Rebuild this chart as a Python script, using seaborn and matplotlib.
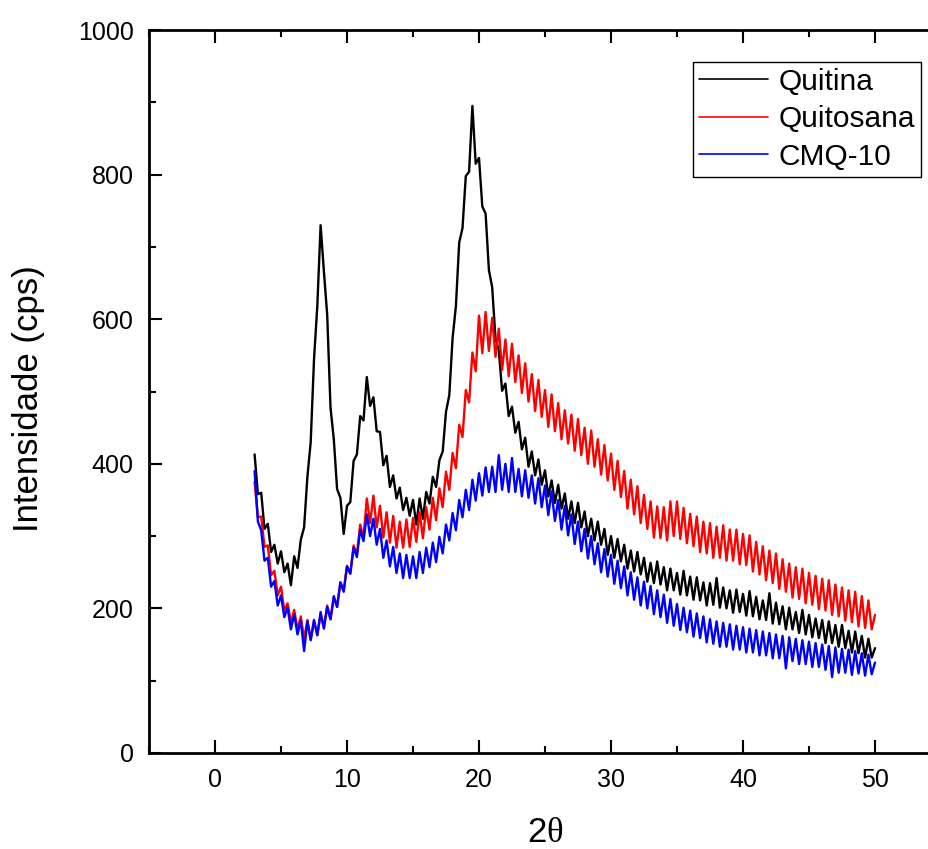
"""
Difratogramas de raios X: Quitina, Quitosana e CMQ-10
============================================================
Gera out.png (929x849 px) com as três curvas de intensidade vs 2θ.
"""

import numpy as np
import pandas as pd
import matplotlib
matplotlib.use('Agg')
import matplotlib.pyplot as plt
from matplotlib.ticker import MultipleLocator
import seaborn as sns

# ================================================================
# Dados (lidos do difratograma, passo de 0.25°)
# ================================================================

TWO_THETA = np.arange(3.0, 50.0 + 0.125, 0.25)

QUITINA = [
    413, 358, 360, 310,   317, 278, 288, 262,   279, 250, 262, 232,
    272, 256, 295, 312,   382, 430, 544, 618,   730, 666, 606, 478,
    434, 365, 353, 303,   342, 347, 404, 413,   466, 460, 520, 480,
    492, 445, 444, 398,   411, 368, 384, 352,   367, 336, 353, 328,
    350, 316, 352, 324,   361, 345, 382, 368,   405, 417, 472, 495,
    574, 618, 706, 726,   798, 804, 895, 815,   823, 756, 746, 668,
    644, 573, 557, 501,   511, 466, 479, 443,   458, 420, 436, 396,
    417, 384, 406, 371,   391, 355, 377, 346,   371, 338, 359, 324,
    348, 318, 346, 312,   334, 300, 324, 294,   320, 288, 310, 274,
    300, 270, 296, 265,   288, 255, 280, 251,   278, 247, 270, 237,
    263, 235, 265, 233,   257, 225, 255, 225,   249, 219, 252, 218,
    244, 212, 243, 211,   236, 204, 235, 205,   242, 201, 229, 200,
    225, 194, 226, 195,   220, 190, 224, 189,   216, 185, 211, 184,
    221, 179, 208, 178,   203, 171, 201, 171,   195, 166, 198, 164,
    191, 160, 186, 159,   184, 152, 182, 152,   177, 147, 177, 145,
    169, 139, 168, 138,   162, 132, 158, 132,
    145,
]

QUITOSANA = [
    375, 326, 327, 285,   287, 246, 252, 218,   230, 197, 207, 180,
    198, 171, 189, 158,   184, 157, 182, 163,   191, 174, 204, 185,
    215, 202, 236, 225,   259, 248, 287, 275,   316, 298, 352, 318,
    356, 312, 342, 298,   333, 291, 328, 284,   320, 284, 323, 285,
    325, 292, 333, 297,   340, 309, 353, 322,   366, 340, 389, 364,
    415, 394, 454, 437,   502, 485, 554, 528,   605, 553, 610, 556,
    602, 548, 587, 530,   572, 521, 566, 513,   550, 498, 539, 486,
    524, 473, 516, 465,   502, 451, 496, 445,   484, 434, 474, 428,
    468, 418, 462, 412,   450, 400, 446, 396,   434, 385, 426, 377,
    414, 364, 404, 354,   390, 338, 378, 330,   369, 318, 357, 310,
    348, 298, 341, 297,   340, 294, 348, 300,   348, 296, 339, 290,
    331, 286, 327, 278,   320, 276, 318, 270,   313, 270, 315, 266,
    309, 266, 309, 261,   303, 260, 301, 251,   292, 247, 286, 239,
    280, 235, 276, 227,   268, 223, 262, 215,   257, 213, 255, 207,
    249, 205, 245, 199,   241, 197, 239, 191,   233, 189, 229, 183,
    225, 181, 223, 175,   217, 173, 211, 171,
    191,
]

CMQ_10 = [
    390, 320, 308, 266,   270, 230, 238, 204,   218, 188, 201, 171,
    192, 164, 183, 141,   182, 156, 184, 163,   195, 172, 202, 185,
    217, 202, 236, 223,   258, 248, 284, 271,   309, 293, 330, 300,
    324, 288, 310, 270,   294, 258, 285, 249,   276, 242, 274, 242,
    272, 242, 278, 249,   284, 257, 291, 264,   299, 276, 316, 294,
    332, 308, 350, 326,   364, 336, 378, 349,   387, 356, 395, 361,
    396, 361, 412, 364,   400, 361, 408, 361,   393, 355, 391, 353,
    384, 345, 380, 340,   370, 329, 362, 321,   350, 309, 342, 301,
    330, 289, 320, 279,   310, 269, 300, 261,   290, 250, 282, 244,
    274, 234, 266, 228,   258, 218, 250, 212,   243, 204, 237, 200,
    231, 192, 225, 188,   219, 180, 213, 176,   206, 170, 201, 167,
    197, 161, 193, 159,   189, 153, 185, 151,   182, 147, 180, 147,
    178, 143, 176, 143,   174, 139, 172, 139,   170, 135, 168, 135,
    166, 131, 164, 131,   162, 117, 160, 127,   158, 123, 156, 123,
    154, 119, 152, 119,   150, 115, 148, 105,   146, 111, 144, 111,
    143, 108, 141, 110,   138, 107, 136, 109,
    125,
]

AMOSTRAS = ['Quitina', 'Quitosana', 'CMQ-10']
CORES    = {'Quitina': '#000000', 'Quitosana': '#FF0000', 'CMQ-10': '#0000FF'}

X_TICKS = [0, 10, 20, 30, 40, 50]
Y_TICKS = [0, 200, 400, 600, 800, 1000]

# ================================================================
# Tabela longa para o seaborn
# ================================================================

series = {'Quitina': QUITINA, 'Quitosana': QUITOSANA, 'CMQ-10': CMQ_10}
df = pd.concat(
    [pd.DataFrame({'2theta': TWO_THETA, 'intensidade': vals, 'amostra': nome})
     for nome, vals in series.items()],
    ignore_index=True,
)

# ================================================================
# Figura
# ================================================================

sns.set_style('ticks')
plt.rcParams['font.family'] = ['Liberation Sans', 'DejaVu Sans']
plt.rcParams['mathtext.fontset'] = 'custom'
plt.rcParams['mathtext.rm'] = 'Liberation Serif'
for chave in ['text.color', 'axes.labelcolor', 'xtick.color', 'ytick.color']:
    plt.rcParams[chave] = 'black'

fig = plt.figure(figsize=(9.29, 8.49), dpi=100)
ax = fig.add_axes([149 / 929, 1 - 753 / 849, 792 / 929, 723 / 849])

sns.lineplot(data=df, x='2theta', y='intensidade', hue='amostra',
             hue_order=AMOSTRAS, palette=CORES, estimator=None, sort=False,
             linewidth=1.7, ax=ax)

ax.set_xlim(-5, 55)
ax.set_ylim(0, 1000)
ax.set_xticks(X_TICKS)
ax.set_yticks(Y_TICKS)
ax.xaxis.set_minor_locator(MultipleLocator(5))
ax.yaxis.set_minor_locator(MultipleLocator(100))

for lado in ['left', 'bottom', 'top', 'right']:
    ax.spines[lado].set_linewidth(2.0)
    ax.spines[lado].set_color('black')

ax.tick_params(which='major', direction='in', length=9.5, width=1.5,
               labelsize=18, pad=11, top=True, right=False, color='black',
               labelcolor='black')
ax.tick_params(which='minor', direction='in', length=5, width=1.5,
               top=True, right=False, color='black')
ax.tick_params(axis='x', which='both', labeltop=False)

ax.set_xlabel('2$\\mathrm{\\theta}$', fontsize=25, color='black')
ax.set_ylabel('Intensidade (cps)', fontsize=25, color='black')
ax.xaxis.set_label_coords(0.5, -0.087)
ax.yaxis.set_label_coords(-0.131, 0.49)

handles, labels = ax.get_legend_handles_labels()
leg = ax.legend(handles, labels, loc='upper left',
                bbox_to_anchor=(0.687, 0.956), borderaxespad=0,
                fontsize=21.5, frameon=True, fancybox=False, framealpha=1,
                edgecolor='black', handlelength=2.3, handletextpad=0.35,
                labelspacing=0.32, borderpad=0.2)
leg.get_frame().set_linewidth(1.0)
for linha in leg.get_lines():
    linha.set_linewidth(1.2)
for texto in leg.get_texts():
    texto.set_color('black')

fig.savefig('out.png', dpi=100)
plt.close(fig)
